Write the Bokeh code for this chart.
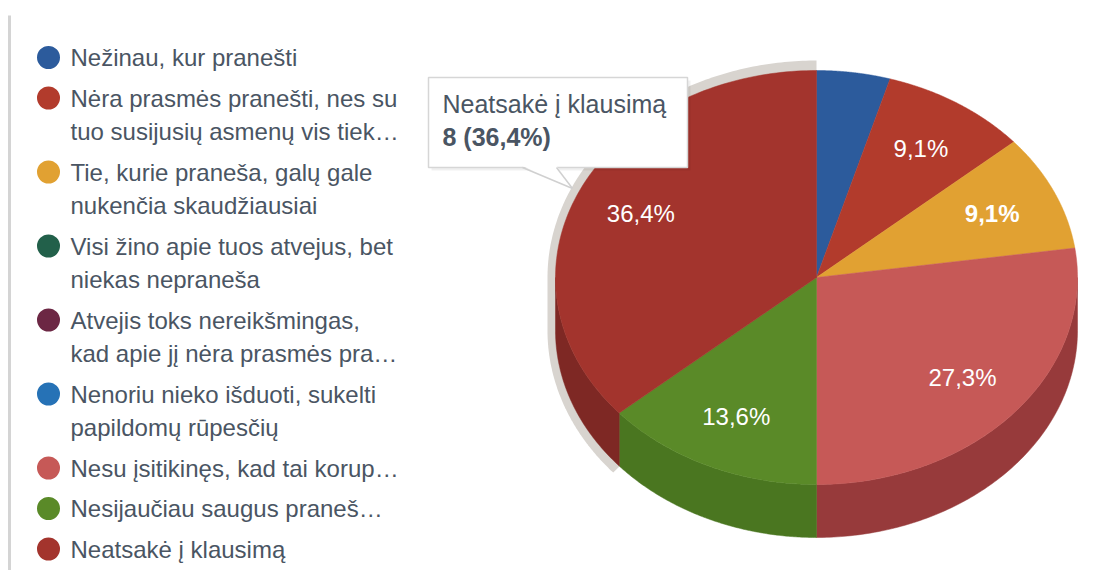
import numpy as np
from bokeh.plotting import figure
from bokeh.models import Range1d
from bokeh.core.properties import value
from bokeh.embed import file_html
from bokeh.resources import INLINE

# ---------------- data ----------------
categories = [
    "Nežinau, kur pranešti",
    "Nėra prasmės pranešti, nes su\ntuo susijusių asmenų vis tiek…",
    "Tie, kurie praneša, galų gale\nnukenčia skaudžiausiai",
    "Visi žino apie tuos atvejus, bet\nniekas nepraneša",
    "Atvejis toks nereikšmingas,\nkad apie jį nėra prasmės pra…",
    "Nenoriu nieko išduoti, sukelti\npapildomų rūpesčių",
    "Nesu įsitikinęs, kad tai korup…",
    "Nesijaučiau saugus praneš…",
    "Neatsakė į klausimą",
]
tooltip_name = "Neatsakė į klausimą"
counts = [1, 2, 2, 0, 0, 0, 6, 3, 8]
colors = ["#2c5b9c", "#b23b2c", "#e1a132", "#22604a", "#6c2744",
          "#2672b6", "#c65957", "#5a8a28", "#a3342d"]
side_colors = ["#21467a", "#8a2c22", "#b07e26", "#1a4a39", "#531e34",
               "#1d5a8f", "#973a3b", "#4a7620", "#7e2824"]
label_styles = ["normal", "normal", "bold", "normal", "normal",
                "normal", "normal", "normal", "normal"]
highlight = 8

# ---------------- layout ----------------
W, H = 1096, 570
cx, cy, rx, ry, depth = 816.0, 277.0, 261.0, 207.0, 53.0
FONT = value("Liberation Sans")
TXT = "#4a5563"

p = figure(width=W, height=H, output_backend="svg", toolbar_location=None,
           x_range=Range1d(0, W), y_range=Range1d(H, 0),
           min_border=0, outline_line_color=None, background_fill_color="white",
           border_fill_color="white")
p.axis.visible = False
p.xgrid.visible = False
p.ygrid.visible = False

total = float(sum(counts))
fr = np.array(counts) / total
ends = np.cumsum(fr) * 360.0
starts = ends - fr * 360.0


def arc(a0, a1, rxx, ryy, dy=0.0, n=120):
    t = np.radians(np.linspace(a0, a1, n))
    return list(cx + rxx * np.sin(t)), list(cy - ryy * np.cos(t) + dy)


# left frame line
p.segment(x0=[9], y0=[15], x1=[9], y1=[H], line_color="#d4d4d4", line_width=3)

# hover highlight (grey halo behind hovered slice)
a0, a1 = starts[highlight], ends[highlight]
hx, hy = [cx], [cy]
if a0 < 270:
    xs, ys = arc(a0, 270, rx + 8, ry + 10, depth)
    hx += xs; hy += ys
    xs, ys = arc(270, a1, rx + 8, ry + 10)
    hx += xs; hy += ys
else:
    xs, ys = arc(a0, a1, rx + 8, ry + 10)
    hx += xs; hy += ys
p.patch(hx, hy, fill_color="#d8d4cf", line_color=None)

# 3D sides (front half)
sx, sy, sc = [], [], []
for i in range(len(counts)):
    if counts[i] == 0:
        continue
    a, b = max(starts[i], 90.0), min(ends[i], 270.0)
    if a >= b:
        continue
    tx, ty = arc(a, b, rx, ry)
    bx, by = arc(b, a, rx, ry, depth)
    sx.append(tx + bx); sy.append(ty + by); sc.append(side_colors[i])
p.patches(xs=sx, ys=sy, fill_color=sc, line_color=sc, line_width=0.5)

# top faces
fx, fy, fc = [], [], []
for i in range(len(counts)):
    if counts[i] == 0:
        continue
    tx, ty = arc(starts[i], ends[i], rx, ry)
    fx.append([cx] + tx); fy.append([cy] + ty); fc.append(colors[i])
p.patches(xs=fx, ys=fy, fill_color=fc, line_color=fc, line_width=0.5)

# slice labels
for i in range(len(counts)):
    if fr[i] < 0.05:
        continue
    m = np.radians((starts[i] + ends[i]) / 2)
    lx = cx + 0.74 * rx * np.sin(m)
    ly = cy - 0.74 * ry * np.cos(m)
    lab = f"{100 * fr[i]:.1f}".replace(".", ",") + "%"
    p.text(x=[lx], y=[ly], text=[lab], text_font=FONT, text_font_size="24px",
           text_color="white", text_align="center", text_baseline="middle",
           text_font_style=label_styles[i])

# legend
y = 57.0
for i, name in enumerate(categories):
    p.scatter(x=[48], y=[y], size=23, fill_color=colors[i], line_color=None)
    for line in name.split("\n"):
        p.text(x=[70], y=[y], text=[line], text_font=FONT, text_font_size="24px",
               text_color=TXT, text_baseline="middle")
        y += 33.5
    y += 7.0

# tooltip
bl, br, bt, bb = 428, 687, 77, 167
p.quad(left=[bl + 3], right=[br + 3], top=[bt + 3], bottom=[bb + 3],
       fill_color="#000000", fill_alpha=0.06, line_color=None)
p.quad(left=[bl], right=[br], top=[bt], bottom=[bb],
       fill_color="white", line_color="#d6d6d6", line_width=1.5)
p.patch([522, 556, 572], [bb - 1.5, bb - 1.5, 188], fill_color="white", line_color=None)
p.segment(x0=[522, 556], y0=[bb, bb], x1=[572, 572], y1=[188, 188],
          line_color="#d0d0d0", line_width=1.5)
pct = f"{100 * fr[highlight]:.1f}".replace(".", ",") + "%"
p.text(x=[442], y=[103], text=[tooltip_name], text_font=FONT, text_font_size="25px",
       text_color=TXT, text_baseline="middle")
p.text(x=[442], y=[136], text=[f"{counts[highlight]} ({pct})"], text_font=FONT,
       text_font_size="25px", text_color=TXT, text_baseline="middle",
       text_font_style="bold")

open("out.html", "w").write(file_html(p, INLINE))
